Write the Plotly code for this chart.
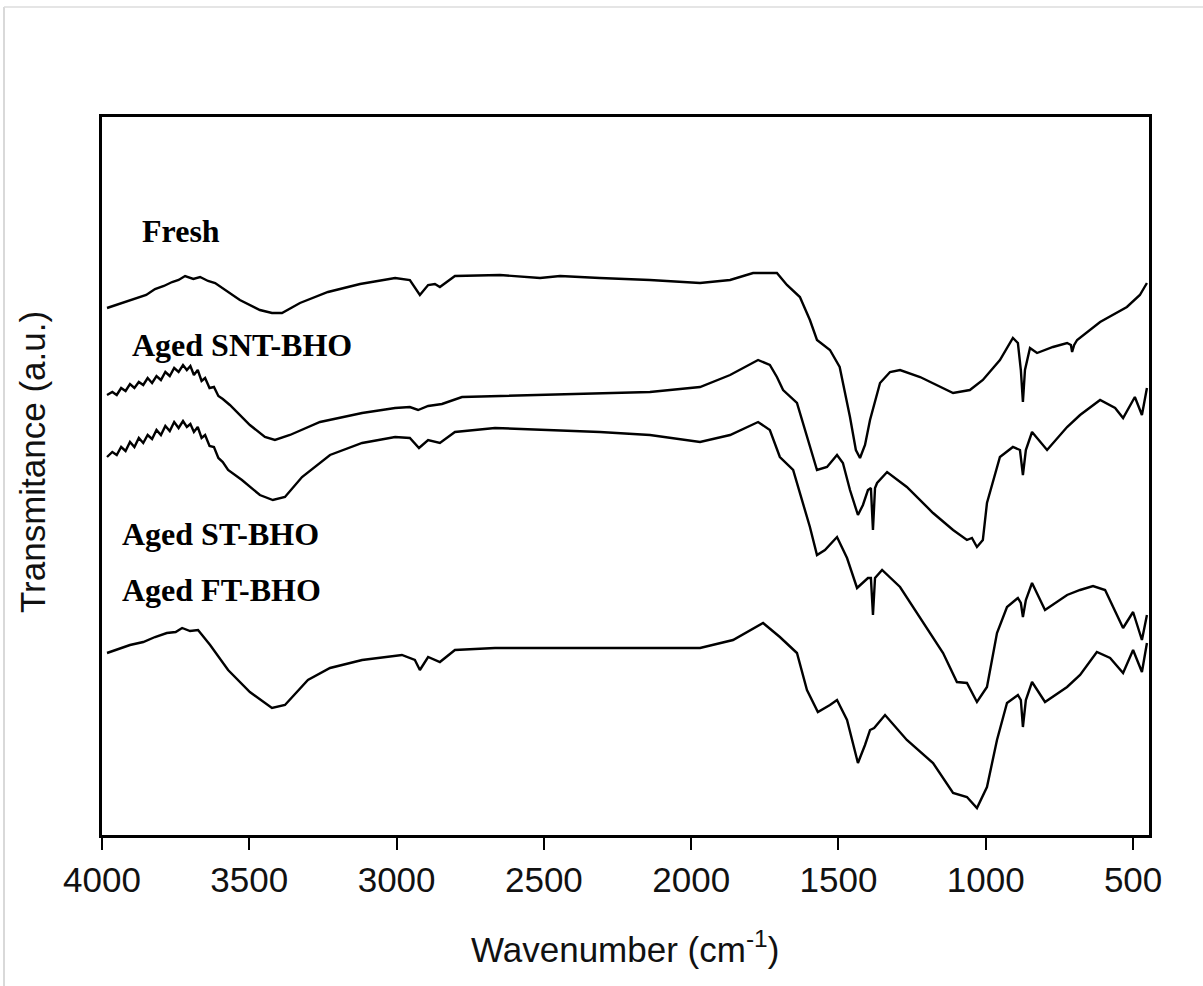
import plotly.graph_objects as go

# ---- data (wavenumber in cm-1, transmittance in arbitrary units, offset stacked) ----
fresh_wn = [3983, 3905, 3850, 3820, 3790, 3762, 3740, 3718, 3690, 3667, 3640, 3616, 3532, 3464,
            3423, 3389, 3328, 3233, 3124, 3005, 2955, 2921, 2893, 2870, 2853, 2802, 2649, 2513,
            2445, 2310, 2140, 1970, 1868, 1790, 1709, 1675, 1631, 1597, 1573, 1529, 1496, 1461,
            1441, 1427, 1410, 1393, 1359, 1325, 1291, 1223, 1179, 1111, 1054, 1010, 952, 908,
            891, 881, 874, 867, 850, 826, 772, 724, 711, 707, 700, 690, 612, 521, 477, 453]
fresh_t = [52.7, 53.5, 54.0, 54.6, 54.9, 55.3, 55.5, 55.9, 55.6, 55.8, 55.4, 55.2, 53.5, 52.5,
           52.2, 52.2, 53.2, 54.3, 55.1, 55.7, 55.5, 54.0, 55.0, 55.1, 54.8, 55.9, 56.0, 55.7,
           55.9, 55.7, 55.5, 55.2, 55.5, 56.2, 56.2, 55.0, 53.8, 51.5, 49.5, 48.5, 46.8, 41.8,
           38.5, 37.7, 39.0, 41.5, 45.2, 46.3, 46.5, 45.8, 45.2, 44.2, 44.5, 45.5, 47.5, 49.7,
           49.2, 46.5, 43.3, 46.5, 48.7, 48.2, 48.8, 49.2, 49.0, 48.3, 49.0, 49.5, 51.3, 52.8, 54.0, 55.2]

snt_wn = [3983, 3965, 3950, 3935, 3920, 3905, 3890, 3875, 3860, 3845, 3830, 3815, 3800, 3785,
          3770, 3755, 3740, 3725, 3712, 3700, 3688, 3675, 3662, 3650, 3635, 3620, 3605, 3590,
          3566, 3498, 3447, 3413, 3362, 3260, 3117, 3005, 2955, 2927, 2893, 2870, 2846, 2778,
          2649, 2310, 2140, 1970, 1868, 1773, 1733, 1709, 1688, 1641, 1607, 1573, 1539, 1505,
          1485, 1461, 1434, 1417, 1400, 1390, 1383, 1376, 1369, 1335, 1268, 1179, 1111, 1064,
          1047, 1030, 1010, 996, 952, 908, 884, 874, 864, 843, 792, 724, 680, 612, 561, 534,
          494, 470, 453]
snt_t = [44.0, 44.3, 44.0, 44.7, 44.4, 45.1, 44.7, 45.3, 45.0, 45.7, 45.2, 45.9, 45.5, 46.3,
         45.9, 46.7, 46.3, 47.0, 46.5, 46.9, 46.0, 46.5, 45.4, 45.7, 44.7, 44.8, 43.9, 43.6,
         43.0, 41.0, 39.8, 39.5, 40.0, 41.3, 42.2, 42.7, 42.8, 42.5, 42.9, 43.0, 43.1, 43.8,
         43.9, 44.1, 44.3, 44.8, 46.0, 47.5, 47.0, 45.8, 44.5, 43.2, 39.8, 36.5, 36.8, 38.0,
         37.2, 34.5, 32.0, 33.0, 34.5, 34.7, 30.5, 34.7, 35.2, 36.3, 34.8, 32.2, 30.5, 29.5,
         29.7, 28.8, 29.5, 33.2, 37.8, 38.8, 38.5, 36.0, 38.5, 40.3, 38.5, 40.8, 42.0, 43.5,
         42.7, 41.7, 43.8, 42.0, 44.7]

st_wn = [3983, 3965, 3950, 3935, 3920, 3905, 3890, 3875, 3860, 3845, 3830, 3815, 3800, 3785,
         3770, 3755, 3740, 3725, 3712, 3700, 3688, 3675, 3662, 3650, 3635, 3620, 3605, 3590,
         3572, 3525, 3464, 3420, 3379, 3321, 3226, 3117, 3005, 2955, 2924, 2893, 2853, 2802,
         2666, 2479, 2310, 2140, 1970, 1868, 1773, 1733, 1699, 1654, 1631, 1597, 1573, 1546,
         1505, 1471, 1437, 1417, 1400, 1390, 1383, 1376, 1352, 1291, 1234, 1145, 1098, 1064,
         1030, 996, 962, 928, 891, 881, 874, 864, 843, 799, 724, 680, 636, 595, 534, 500, 470, 453]
st_t = [37.8, 38.3, 38.0, 38.8, 38.4, 39.3, 38.8, 39.7, 39.2, 40.0, 39.6, 40.5, 40.0, 40.9,
        40.4, 41.3, 40.7, 41.4, 40.8, 41.1, 40.3, 40.8, 39.7, 40.0, 38.9, 38.8, 37.7, 37.3,
        36.5, 35.5, 34.0, 33.5, 33.8, 35.8, 38.0, 39.2, 39.8, 39.7, 38.7, 39.5, 39.2, 40.3,
        40.7, 40.5, 40.3, 40.0, 39.3, 40.0, 41.3, 40.5, 37.8, 36.5, 34.2, 30.8, 28.0, 28.5,
        29.8, 27.7, 24.7, 25.2, 25.7, 25.7, 22.0, 25.7, 26.5, 24.8, 22.2, 18.2, 15.3, 15.2,
        13.3, 14.8, 20.2, 22.8, 23.7, 23.2, 21.8, 23.5, 25.2, 22.5, 24.0, 24.5, 24.9, 24.5,
        20.7, 22.3, 19.5, 22.0]

ft_wn = [3983, 3905, 3860, 3820, 3780, 3750, 3728, 3701, 3674, 3633, 3572, 3498, 3423, 3379,
         3301, 3226, 3117, 2982, 2938, 2921, 2893, 2853, 2802, 2666, 2310, 1970, 1858, 1756,
         1699, 1641, 1607, 1570, 1529, 1505, 1471, 1434, 1410, 1393, 1379, 1342, 1268, 1179,
         1111, 1064, 1030, 996, 962, 928, 891, 881, 874, 864, 843, 799, 724, 680, 623, 578,
         534, 500, 470, 453]
ft_t = [18.2, 19.0, 19.3, 19.8, 20.2, 20.3, 20.7, 20.4, 20.5, 19.0, 16.5, 14.3, 12.7, 13.0,
        15.5, 16.7, 17.5, 18.0, 17.5, 16.5, 17.8, 17.3, 18.5, 18.7, 18.7, 18.7, 19.5, 21.2,
        19.8, 18.2, 14.5, 12.3, 13.0, 13.5, 11.5, 7.2, 9.0, 10.5, 10.7, 12.0, 9.5, 7.2,
        4.2, 3.8, 2.7, 4.8, 9.5, 13.2, 14.0, 13.5, 10.8, 13.5, 15.3, 13.3, 14.8, 16.0, 18.3, 17.7,
        16.2, 18.5, 16.3, 19.2]

series = [("Fresh", fresh_wn, fresh_t), ("Aged SNT-BHO", snt_wn, snt_t),
          ("Aged ST-BHO", st_wn, st_t), ("Aged FT-BHO", ft_wn, ft_t)]

x_ticks = [4000, 3500, 3000, 2500, 2000, 1500, 1000, 500]

# label positions (paper coords)
labels = ["Fresh", "Aged SNT-BHO", "Aged ST-BHO", "Aged FT-BHO"]
label_x = [0.0363, 0.0267, 0.0172, 0.0172]
label_y = [0.841, 0.6825, 0.419, 0.341]

fig = go.Figure()
for name, wn, t in series:
    fig.add_trace(go.Scatter(x=wn, y=t, mode="lines", name=name,
                             line=dict(color="black", width=2.4), showlegend=False))

for txt, lx, ly in zip(labels, label_x, label_y):
    fig.add_annotation(text=f"<b>{txt}</b>", x=lx, y=ly, xref="paper", yref="paper",
                       xanchor="left", yanchor="middle", showarrow=False,
                       font=dict(family="Liberation Serif", size=32, color="black"))

axis_font = dict(family="Liberation Sans, Arial", size=35, color="#111")
fig.add_annotation(text="Wavenumber (cm<sup>-1</sup>)", x=0.4995, y=-0.156, xref="paper", yref="paper",
                   xanchor="center", yanchor="middle", showarrow=False, font=axis_font)
fig.add_annotation(text="Transmitance (a.u.)", x=-0.0659, y=0.5195, xref="paper", yref="paper",
                   xanchor="center", yanchor="middle", showarrow=False, textangle=-90,
                   font=dict(family="Liberation Sans, Arial", size=35, color="#111"))

# faint outer border (left and top)
fig.add_shape(type="line", xref="paper", yref="paper", x0=-0.0936, x1=-0.0936, y0=1.1532, y1=-0.2103,
              line=dict(color="#cccccc", width=1.5))
fig.add_shape(type="line", xref="paper", yref="paper", x0=-0.0936, x1=1.0516, y0=1.1532, y1=1.1532,
              line=dict(color="#dddddd", width=1.5))

fig.update_layout(
    width=1203, height=986,
    margin=dict(l=102, r=54, t=117, b=151),
    paper_bgcolor="white", plot_bgcolor="white",
    xaxis=dict(range=[4000, 446], tickvals=x_ticks, ticktext=[str(v) for v in x_ticks],
               showline=True, linecolor="black", linewidth=2.5, mirror=True,
               ticks="outside", ticklen=12, tickwidth=2, tickcolor="black",
               showgrid=False, zeroline=False, tickfont=axis_font),
    yaxis=dict(range=[0, 71.8], showticklabels=False, ticks="",
               showline=True, linecolor="black", linewidth=2.5, mirror=True,
               showgrid=False, zeroline=False),
)

fig.write_html("out.html", config={"displayModeBar": False},
               post_script="document.body.style.margin='0';")
